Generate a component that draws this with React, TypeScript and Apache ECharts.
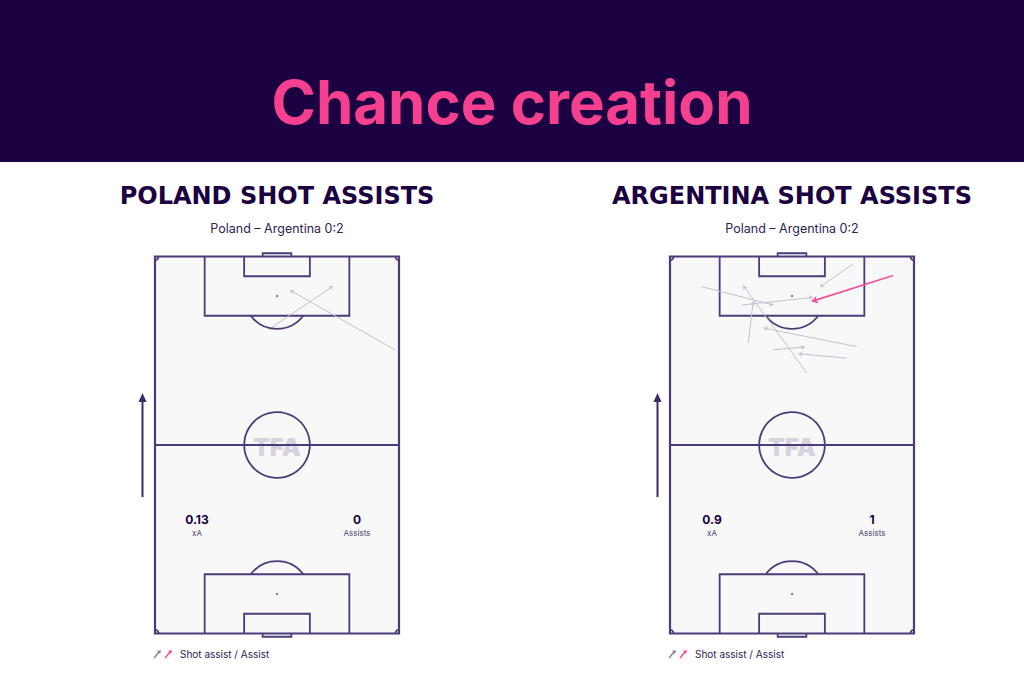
import React, { useEffect, useRef } from "react";
import * as echarts from "echarts";

// ---- data (pitch metres: x 0..68 across, y 0..105 towards attacked goal) ----
const teams = ["POLAND SHOT ASSISTS", "ARGENTINA SHOT ASSISTS"];
const matchLabel = "Poland – Argentina 0:2";
const xAValues = ["0.13", "0.9"];
const assistCounts = ["0", "1"];

// [xStart, yStart, xEnd, yEnd]
const polandShotAssists = [
  [66.9, 79.0, 37.6, 95.6],
  [32.6, 85.3, 49.6, 96.7],
];
const argentinaShotAssists = [
  [51.1, 103.0, 41.8, 96.5],
  [8.8, 96.6, 28.8, 91.5],
  [38.1, 72.6, 20.4, 96.9],
  [21.8, 80.9, 23.2, 92.5],
  [20.0, 91.5, 39.9, 93.6],
  [52.0, 79.9, 26.0, 85.1],
  [28.8, 79.0, 37.6, 79.8],
  [49.2, 76.7, 35.8, 77.9],
];
const argentinaAssists = [[62.2, 99.7, 39.5, 92.5]];

const LINE = "#4b3b78";
const DARK = "#1b0042";
const GREY_ARROW = "#c4c0d0";
const PINK = "#f0509a";

const pitchRender = (params: any, api: any) => {
  const c = (x: number, y: number) => api.coord([x, y]);
  const k = api.size([1, 1])[0];
  const st = { stroke: LINE, lineWidth: 1.8, fill: null };
  const pl = (pts: number[][]) => ({
    type: "polyline",
    shape: { points: pts.map((p) => c(p[0], p[1])) },
    style: st,
  });
  const arc = (x: number, y: number, r: number, a0: number, a1: number) => {
    const p = c(x, y);
    return {
      type: "arc",
      shape: { cx: p[0], cy: p[1], r: r * k, startAngle: a0, endAngle: a1, clockwise: true },
      style: st,
    };
  };
  const spot = (x: number, y: number) => {
    const p = c(x, y);
    return { type: "circle", shape: { cx: p[0], cy: p[1], r: 0.9 }, style: { fill: LINE } };
  };
  const a = Math.asin(5.5 / 9.15);
  const cc = c(34, 52.5);
  return {
    type: "group",
    children: [
      { type: "polygon", shape: { points: [c(0, 0), c(68, 0), c(68, 105), c(0, 105)] }, style: { ...st, lineWidth: 2.2 } },
      pl([[0, 52.5], [68, 52.5]]),
      { type: "circle", shape: { cx: cc[0], cy: cc[1], r: 9.15 * k }, style: st },
      pl([[13.84, 105], [13.84, 88.5], [54.16, 88.5], [54.16, 105]]),
      pl([[24.84, 105], [24.84, 99.5], [43.16, 99.5], [43.16, 105]]),
      pl([[13.84, 0], [13.84, 16.5], [54.16, 16.5], [54.16, 0]]),
      pl([[24.84, 0], [24.84, 5.5], [43.16, 5.5], [43.16, 0]]),
      pl([[30.0, 105], [30.0, 105.9], [38.0, 105.9], [38.0, 105]]),
      pl([[30.0, 0], [30.0, -0.9], [38.0, -0.9], [38.0, 0]]),
      arc(34, 94, 9.15, a, Math.PI - a),
      arc(34, 11, 9.15, Math.PI + a, 2 * Math.PI - a),
      arc(0, 105, 1, 0, Math.PI / 2),
      arc(68, 105, 1, Math.PI / 2, Math.PI),
      arc(0, 0, 1, -Math.PI / 2, 0),
      arc(68, 0, 1, Math.PI, 1.5 * Math.PI),
      spot(34, 94),
      spot(34, 11),
    ],
  };
};

const toLines = (arr: number[][]) => arr.map((a) => ({ coords: [[a[0], a[1]], [a[2], a[3]]] }));

const GRID_LEFT = [155, 670];

export default function App() {
  const ref = useRef<HTMLDivElement>(null);
  useEffect(() => {
    if (!ref.current) return;
    const chart = echarts.init(ref.current, null, { renderer: "svg" });

    const graphics: any[] = [
      { type: "rect", shape: { x: 0, y: 0, width: 1024, height: 162 }, style: { fill: DARK }, z: 0 },
      {
        type: "text", x: 512, y: 102,
        style: { text: "Chance creation", fill: "#f5408f", font: "bold 60px Inter", align: "center", verticalAlign: "middle" },
      },
    ];
    [0, 1].forEach((i) => {
      const cx = GRID_LEFT[i] + 122;
      graphics.push(
        { type: "text", x: cx, y: 196, style: { text: teams[i], fill: DARK, font: "bold 24px 'DejaVu Sans'", align: "center", verticalAlign: "middle" } },
        { type: "text", x: cx, y: 228, style: { text: matchLabel, fill: "#2e2254", font: "12.5px Inter", align: "center", verticalAlign: "middle" } },
        { type: "text", x: cx, y: 447, z: 1, style: { text: "TFA", fill: "#d6d3de", font: "900 24px Inter", align: "center", verticalAlign: "middle" } },
        { type: "text", x: GRID_LEFT[i] + 42, y: 519, style: { text: xAValues[i], fill: DARK, font: "bold 12px Inter", align: "center", verticalAlign: "middle" } },
        { type: "text", x: GRID_LEFT[i] + 42, y: 533, style: { text: "xA", fill: "#4b3f6e", font: "8px Inter", align: "center", verticalAlign: "middle" } },
        { type: "text", x: GRID_LEFT[i] + 202, y: 519, style: { text: assistCounts[i], fill: DARK, font: "bold 12px Inter", align: "center", verticalAlign: "middle" } },
        { type: "text", x: GRID_LEFT[i] + 202, y: 533, style: { text: "Assists", fill: "#4b3f6e", font: "8px Inter", align: "center", verticalAlign: "middle" } },
        { type: "line", shape: { x1: GRID_LEFT[i] - 12.5, y1: 497, x2: GRID_LEFT[i] - 12.5, y2: 400 }, style: { stroke: "#3b2a66", lineWidth: 2 } },
        { type: "polygon", shape: { points: [[GRID_LEFT[i] - 16.5, 402], [GRID_LEFT[i] - 8.5, 402], [GRID_LEFT[i] - 12.5, 393]] }, style: { fill: "#3b2a66" } },
        { type: "line", shape: { x1: GRID_LEFT[i] - 1, y1: 658, x2: GRID_LEFT[i] + 4, y2: 652 }, style: { stroke: "#8a8599", lineWidth: 1.5 } },
        { type: "polygon", shape: { points: [[GRID_LEFT[i] + 6, 650], [GRID_LEFT[i] + 2, 651], [GRID_LEFT[i] + 5, 654]] }, style: { fill: "#8a8599" } },
        { type: "line", shape: { x1: GRID_LEFT[i] + 10, y1: 658, x2: GRID_LEFT[i] + 15, y2: 652 }, style: { stroke: PINK, lineWidth: 1.5 } },
        { type: "polygon", shape: { points: [[GRID_LEFT[i] + 17, 650], [GRID_LEFT[i] + 13, 651], [GRID_LEFT[i] + 16, 654]] }, style: { fill: PINK } },
        { type: "text", x: GRID_LEFT[i] + 25, y: 654, style: { text: "Shot assist / Assist", fill: "#2e2254", font: "10px Inter", align: "left", verticalAlign: "middle" } },
      );
    });

    const arrowSeries = (idx: number, data: number[][], color: string, width: number, z: number) => ({
      type: "lines",
      coordinateSystem: "cartesian2d",
      xAxisIndex: idx,
      yAxisIndex: idx,
      symbol: ["none", "arrow"],
      symbolSize: width > 1.2 ? 6 : 4,
      lineStyle: { color, width, opacity: 1, curveness: 0 },
      data: toLines(data),
      z,
      silent: true,
    });

    chart.setOption({
      animation: false,
      backgroundColor: "#ffffff",
      grid: GRID_LEFT.map((l) => ({
        left: l, top: 256.5, width: 244, height: 377,
        show: true, backgroundColor: "#f8f8f9", borderWidth: 0,
      })),
      xAxis: [0, 1].map((i) => ({ type: "value", gridIndex: i, min: 0, max: 68, show: false })),
      yAxis: [0, 1].map((i) => ({ type: "value", gridIndex: i, min: 0, max: 105, show: false })),
      graphic: graphics,
      series: [
        ...[0, 1].map((i) => ({
          type: "custom",
          xAxisIndex: i,
          yAxisIndex: i,
          renderItem: pitchRender,
          data: [[34, 52.5]],
          z: 2,
          silent: true,
        })),
        arrowSeries(0, polandShotAssists, GREY_ARROW, 1, 3),
        arrowSeries(1, argentinaShotAssists, GREY_ARROW, 1, 3),
        arrowSeries(1, argentinaAssists, PINK, 1.6, 4),
      ],
    });
    return () => chart.dispose();
  }, []);
  return (
    <div
      ref={ref}
      style={{ position: "fixed", left: 0, top: 0, width: 1024, height: 683, background: "#fff" }}
    />
  );
}
